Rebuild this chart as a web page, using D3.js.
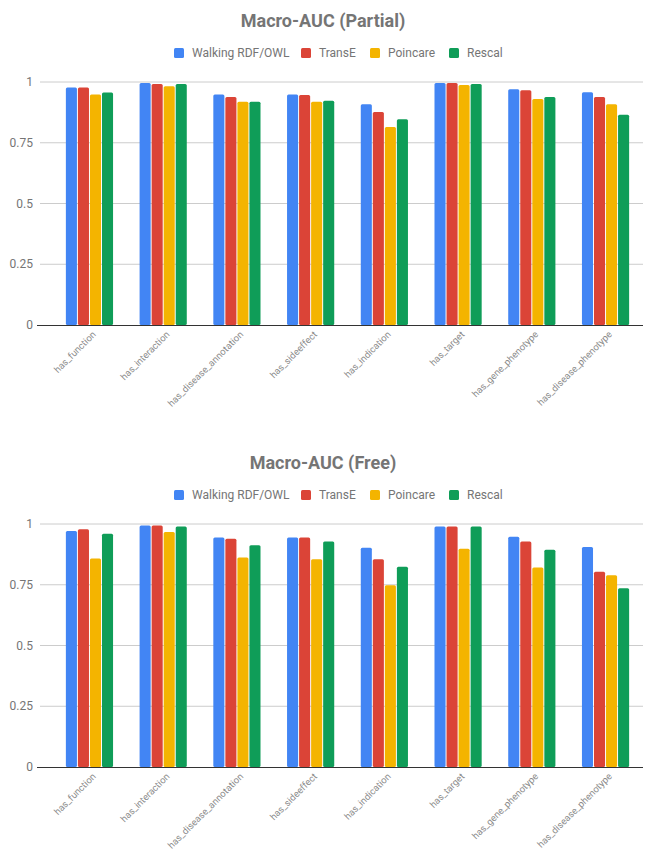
<!DOCTYPE html>
<html>
<head>
<meta charset="utf-8">
<script src="https://cdn.jsdelivr.net/npm/d3@7"></script>
<style>
  body { margin: 0; background: #fff; }
  svg { font-family: Roboto, "Noto Sans", sans-serif; }
</style>
</head>
<body>
<div id="chart"></div>
<script>
// ============================================================================
// data
// ============================================================================

const categories = ["has_function", "has_interaction", "has_disease_annotation", "has_sideeffect",
                    "has_indication", "has_target", "has_gene_phenotype", "has_disease_phenotype"];
const methods = ["Walking RDF/OWL", "TransE", "Poincare", "Rescal"];
const colors = ["#4285F4", "#DB4437", "#F4B400", "#0F9D58"];

const yTicks = [0, 0.25, 0.5, 0.75, 1];
const yTickLabels = ["0", "0.25", "0.5", "0.75", "1"];

// Macro-AUC (Partial)
const partialWalking = [0.977, 0.996, 0.949, 0.949, 0.908, 0.996, 0.970, 0.958];
const partialTransE  = [0.977, 0.992, 0.938, 0.947, 0.877, 0.996, 0.966, 0.938];
const partialPoincare = [0.949, 0.982, 0.919, 0.919, 0.815, 0.988, 0.930, 0.908];
const partialRescal  = [0.957, 0.992, 0.919, 0.923, 0.847, 0.992, 0.938, 0.865];

// Macro-AUC (Free)
const freeWalking = [0.971, 0.994, 0.944, 0.944, 0.902, 0.990, 0.948, 0.905];
const freeTransE  = [0.978, 0.994, 0.939, 0.944, 0.855, 0.990, 0.928, 0.803];
const freePoincare = [0.858, 0.967, 0.862, 0.855, 0.748, 0.898, 0.821, 0.789];
const freeRescal  = [0.960, 0.990, 0.913, 0.928, 0.824, 0.990, 0.894, 0.736];

// ============================================================================
// chart
// ============================================================================

const width = 647;
const height = 853;

const svg = d3.select("#chart")
    .append("svg")
    .attr("width", width)
    .attr("height", height);

function drawChart(offsetY, title, series) {
    const g = svg.append("g").attr("transform", `translate(0,${offsetY})`);

    const x = d3.scaleBand()
        .domain(categories)
        .range([52.6, 642.4])
        .paddingInner(0.36)
        .paddingOuter(0.18);

    const xInner = d3.scaleBand()
        .domain(methods)
        .range([0, x.bandwidth()])
        .paddingInner(0.08);

    const y = d3.scaleLinear().domain([0, 1]).range([325, 82]);

    // title
    g.append("text")
        .attr("x", 323)
        .attr("y", 27)
        .attr("text-anchor", "middle")
        .attr("font-size", 18)
        .attr("font-weight", "bold")
        .attr("fill", "#757575")
        .text(title);

    // legend
    const legendX = [174, 301, 370, 449];
    const legend = g.append("g")
        .selectAll("g")
        .data(methods)
        .join("g")
        .attr("transform", (d, i) => `translate(${legendX[i]},53)`);

    legend.append("rect")
        .attr("x", 0).attr("y", -5)
        .attr("width", 10).attr("height", 10)
        .attr("rx", 1.5)
        .attr("fill", (d, i) => colors[i]);

    legend.append("text")
        .attr("x", 18)
        .attr("dy", "0.35em")
        .attr("font-size", 12)
        .attr("fill", "#757575")
        .text(d => d);

    // gridlines
    g.append("g")
        .selectAll("line")
        .data(yTicks.filter(t => t > 0))
        .join("line")
        .attr("x1", 40).attr("x2", 643)
        .attr("y1", d => y(d)).attr("y2", d => y(d))
        .attr("stroke", "#cccccc")
        .attr("stroke-width", 1);

    // y axis labels
    g.append("g")
        .selectAll("text")
        .data(yTicks)
        .join("text")
        .attr("x", 33)
        .attr("y", d => y(d))
        .attr("dy", "0.35em")
        .attr("text-anchor", "end")
        .attr("font-size", 12)
        .attr("fill", "#757575")
        .text((d, i) => yTickLabels[i]);

    // bars
    const group = g.append("g")
        .selectAll("g")
        .data(categories)
        .join("g")
        .attr("transform", d => `translate(${x(d)},0)`);

    group.selectAll("rect")
        .data((c, ci) => methods.map((m, mi) => ({ m, mi, v: series[mi][ci] })))
        .join("rect")
        .attr("x", d => xInner(d.m))
        .attr("y", d => y(d.v))
        .attr("width", xInner.bandwidth())
        .attr("height", d => y(0) - y(d.v))
        .attr("rx", 1.5)
        .attr("fill", d => colors[d.mi]);

    // baseline
    g.append("line")
        .attr("x1", 37).attr("x2", 643)
        .attr("y1", y(0) + 0.5).attr("y2", y(0) + 0.5)
        .attr("stroke", "#333333")
        .attr("stroke-width", 1);

    // x labels
    g.append("g")
        .selectAll("text")
        .data(categories)
        .join("text")
        .attr("text-anchor", "end")
        .attr("font-size", 9.5)
        .attr("fill", "#8a8a8a")
        .attr("transform", d => `translate(${x(d) + x.bandwidth() / 2 + 7},${y(0) + 10}) rotate(-45)`)
        .text(d => d);
}

drawChart(0, "Macro-AUC (Partial)", [partialWalking, partialTransE, partialPoincare, partialRescal]);
drawChart(442, "Macro-AUC (Free)", [freeWalking, freeTransE, freePoincare, freeRescal]);
</script>
</body>
</html>
